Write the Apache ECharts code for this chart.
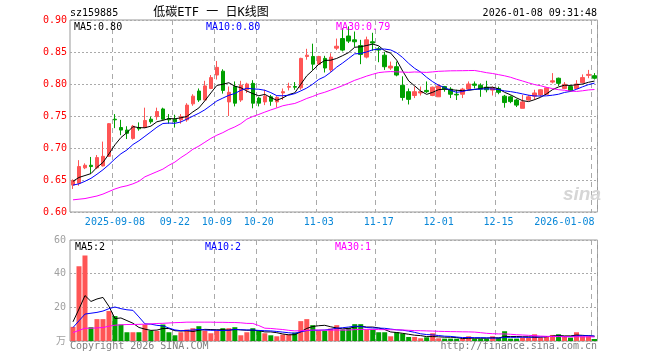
<!DOCTYPE html>
<html><head><meta charset="utf-8">
<script src="https://cdn.jsdelivr.net/npm/echarts@6/dist/echarts.min.js"></script>
<style>html,body{margin:0;padding:0;background:#fff}#c{width:660px;height:360px}</style>
</head><body><div id="c"></div>
<script>
const dates = ['2025-08-28','2025-08-29','2025-09-01','2025-09-02','2025-09-03','2025-09-04','2025-09-05','2025-09-08','2025-09-09','2025-09-10','2025-09-11','2025-09-12','2025-09-15','2025-09-16','2025-09-17','2025-09-18','2025-09-19','2025-09-22','2025-09-23','2025-09-24','2025-09-25','2025-09-26','2025-09-29','2025-09-30','2025-10-09','2025-10-10','2025-10-13','2025-10-14','2025-10-15','2025-10-16','2025-10-17','2025-10-20','2025-10-21','2025-10-22','2025-10-23','2025-10-24','2025-10-27','2025-10-28','2025-10-29','2025-10-30','2025-10-31','2025-11-03','2025-11-04','2025-11-05','2025-11-06','2025-11-07','2025-11-10','2025-11-11','2025-11-12','2025-11-13','2025-11-14','2025-11-17','2025-11-18','2025-11-19','2025-11-20','2025-11-21','2025-11-24','2025-11-25','2025-11-26','2025-11-27','2025-11-28','2025-12-01','2025-12-02','2025-12-03','2025-12-04','2025-12-05','2025-12-08','2025-12-09','2025-12-10','2025-12-11','2025-12-12','2025-12-15','2025-12-16','2025-12-17','2025-12-18','2025-12-19','2025-12-22','2025-12-23','2025-12-24','2025-12-25','2025-12-26','2025-12-29','2025-12-30','2025-12-31','2026-01-05','2026-01-06','2026-01-07','2026-01-08'];
const tickDates = ['2025-09-08','2025-09-22','2025-10-09','2025-10-20','2025-11-03','2025-11-17','2025-12-01','2025-12-15','2026-01-08'];
const tickLabels = ['2025-09-08','09-22','10-09','10-20','11-03','11-17','12-01','12-15','2026-01-08'];

const opens = [0.642,0.645,0.669,0.673,0.669,0.672,0.687,0.745,0.732,0.728,
0.715,0.732,0.732,0.745,0.749,0.761,0.746,0.745,0.744,0.744,
0.769,0.789,0.775,0.793,0.814,0.820,0.772,0.796,0.775,0.791,
0.801,0.778,0.772,0.780,0.772,0.786,0.795,0.796,0.794,0.843,
0.843,0.831,0.840,0.822,0.856,0.871,0.875,0.869,0.860,0.842,
0.866,0.855,0.845,0.825,0.827,0.798,0.788,0.782,0.786,0.790,
0.782,0.780,0.796,0.792,0.784,0.784,0.792,0.800,0.798,0.795,
0.7905,0.793,0.781,0.780,0.775,0.762,0.775,0.781,0.783,0.784,
0.803,0.809,0.793,0.796,0.793,0.802,0.8135,0.813];
const closes = [0.649,0.671,0.673,0.671,0.685,0.687,0.738,0.744,0.728,0.723,
0.734,0.730,0.743,0.741,0.757,0.745,0.744,0.741,0.749,0.767,
0.781,0.775,0.797,0.810,0.826,0.790,0.787,0.770,0.798,0.800,
0.770,0.770,0.781,0.773,0.779,0.788,0.796,0.795,0.840,0.845,
0.831,0.843,0.825,0.842,0.859,0.853,0.867,0.866,0.846,0.869,
0.864,0.853,0.827,0.828,0.814,0.779,0.776,0.788,0.788,0.788,
0.795,0.797,0.792,0.784,0.783,0.792,0.800,0.798,0.792,0.791,
0.794,0.787,0.771,0.7725,0.767,0.772,0.780,0.786,0.791,0.794,
0.805,0.801,0.7995,0.789,0.800,0.810,0.815,0.809];
const lows = [0.636,0.641,0.667,0.660,0.667,0.671,0.686,0.731,0.720,0.714,
0.713,0.727,0.731,0.738,0.744,0.744,0.738,0.732,0.738,0.741,
0.766,0.772,0.775,0.792,0.807,0.785,0.750,0.765,0.772,0.786,
0.762,0.765,0.767,0.766,0.763,0.775,0.790,0.791,0.791,0.838,
0.822,0.830,0.818,0.819,0.853,0.851,0.864,0.858,0.831,0.840,
0.852,0.834,0.822,0.822,0.812,0.774,0.768,0.778,0.782,0.786,
0.781,0.780,0.788,0.778,0.775,0.778,0.790,0.793,0.780,0.787,
0.782,0.784,0.763,0.770,0.764,0.762,0.774,0.775,0.780,0.783,
0.801,0.797,0.792,0.788,0.792,0.801,0.809,0.807];
const highs = [0.651,0.681,0.676,0.686,0.689,0.710,0.739,0.753,0.744,0.734,
0.736,0.740,0.763,0.749,0.763,0.763,0.753,0.752,0.753,0.770,
0.784,0.793,0.805,0.814,0.836,0.823,0.796,0.804,0.805,0.802,
0.806,0.780,0.791,0.783,0.781,0.793,0.802,0.803,0.841,0.855,
0.863,0.844,0.844,0.848,0.871,0.887,0.890,0.882,0.869,0.874,
0.880,0.858,0.850,0.835,0.835,0.812,0.793,0.796,0.796,0.804,
0.796,0.800,0.797,0.795,0.791,0.794,0.804,0.804,0.801,0.805,
0.796,0.796,0.783,0.782,0.777,0.783,0.783,0.791,0.792,0.795,
0.817,0.810,0.803,0.798,0.806,0.815,0.822,0.817];
const volumes = [8.4,44.4,50.8,8.2,13,13,17.8,14.8,9.8,5.2,
5.2,5.2,9.8,6.2,6,9.8,5.2,3.4,5.2,6.8,
7.6,8.8,6.2,4.6,6.2,7.6,7.6,8.2,3.4,5.2,
7.6,6.2,4.6,3.4,2.8,3.8,3.8,5,11.8,13,
9.4,6.2,6.2,7.4,9.4,6.8,7.8,10,10,6.8,
6.8,5.2,5.2,2.8,5.2,4.4,2.4,2.4,1.6,2.2,
4.6,1.6,1.4,1.4,1.4,1.4,2.8,1.4,1.4,1.4,
2.8,2.0,5.8,1.4,1.4,2.0,2.0,4.0,2.0,2.8,
3.6,4.0,2.8,2.0,5.2,2.8,2.8,1.2];

// moving-average values for days whose window starts before the first visible day
const ma5Early = [0.648,0.654,0.657,0.660];
const ma10Early = [0.642,0.644,0.648,0.6526,0.659,0.666,0.674,0.683,0.691];
const ma30Early = [0.619,0.620,0.621,0.623,0.625,0.628,0.632,0.636,0.639,0.641,
0.644,0.648,0.655,0.659,0.663,0.667,0.673,0.678,0.685,0.691,
0.698,0.703,0.709,0.715,0.720,0.724,0.729,0.733,0.738];
const vma5Early = [11.4,19,27,23.5];
const vma10Early = [8,12,16,16.5,17,17.8,19.2,20.2,19.2];
const vma30Early = [5,6.3,7.6,7.6,7.8,8.0,8.8,9.4,9.6,9.8,
9.8,9.9,10.0,10.2,10.4,10.5,10.7,10.9,11.0,11.2,
11.2,11.2,11.2,11.2,11.1,11.1,11.0,11.0,10.8];

const headerCode = 'sz159885';
const headerTitle = '低碳ETF 一 日K线图';
const headerTime = '2026-01-08 09:31:48';
const priceLegend = ['MA5:0.80','MA10:0.80','MA30:0.79'];
const volLegend = ['MA5:2','MA10:2','MA30:1'];

function movingAvg(src, n, early) {
  return src.map((v, i) => {
    if (i < early.length) return early[i];
    let s = 0;
    for (let k = i - n + 1; k <= i; k++) s += src[k];
    return +(s / n).toFixed(4);
  });
}

const RED = '#ff5555', GREEN = '#00a000';
const MONO = "'DejaVu Sans Mono','Liberation Mono',monospace";
const CJK = "'DejaVu Sans Mono','Noto Sans CJK SC',sans-serif";
const tickSet = new Set(tickDates);
const tickName = {};
tickDates.forEach((d, i) => tickName[d] = tickLabels[i]);
const isTick = (idx) => tickSet.has(dates[idx]);

const kData = opens.map((o, i) => [o, closes[i], lows[i], highs[i]]);
const volData = volumes.map((v, i) => ({
  value: v,
  itemStyle: { color: closes[i] >= opens[i] ? RED : GREEN }
}));

const chart = echarts.init(document.getElementById('c'), null, { renderer: 'canvas' });

const gridLeft = 70, gridWidth = 527.5;
const vLine = { show: true, interval: isTick, lineStyle: { color: '#aaaaaa', type: [5, 4], width: 1 } };
const hLine = { show: true, lineStyle: { color: '#aaaaaa', type: [2, 2], width: 1 } };

function lineSeries(data, color, xi) {
  return { type: 'line', data, xAxisIndex: xi, yAxisIndex: xi, showSymbol: false, symbol: 'none',
    lineStyle: { color, width: 1 }, itemStyle: { color }, silent: true, z: 5 };
}

function txt(x, y, text, fill, align, font) {
  return { type: 'text', x, y, silent: true, z: 100,
    style: { text, fill, font: font || ('10px ' + MONO), textAlign: align || 'left', textVerticalAlign: 'middle' } };
}

chart.setOption({
  animation: false,
  backgroundColor: '#ffffff',
  grid: [
    { left: gridLeft, top: 20, width: gridWidth, height: 192, show: true, borderColor: '#999999', borderWidth: 1, backgroundColor: 'transparent', outerBoundsMode: 'none', containLabel: false },
    { left: gridLeft, top: 240, width: gridWidth, height: 101, show: true, borderColor: '#999999', borderWidth: 1, backgroundColor: 'transparent', outerBoundsMode: 'none', containLabel: false }
  ],
  xAxis: [
    { type: 'category', data: dates, gridIndex: 0, boundaryGap: true,
      axisLine: { show: false }, axisTick: { show: false },
      axisLabel: { show: true, interval: isTick, formatter: (v) => tickName[v] || '', color: '#0a88d8',
        fontFamily: MONO, fontSize: 10, margin: 5, alignMaxLabel: 'right', hideOverlap: false },
      splitLine: vLine },
    { type: 'category', data: dates, gridIndex: 1, boundaryGap: true,
      axisLine: { show: false }, axisTick: { show: false }, axisLabel: { show: false },
      splitLine: vLine }
  ],
  yAxis: [
    { type: 'value', gridIndex: 0, min: 0.6, max: 0.9, interval: 0.05, scale: false,
      axisLine: { show: false }, axisTick: { show: false },
      axisLabel: { color: '#ff0000', fontFamily: MONO, fontSize: 10, margin: 3, formatter: (v) => v.toFixed(2) },
      splitLine: hLine },
    { type: 'value', gridIndex: 1, min: 0, max: 60, interval: 20,
      axisLine: { show: false }, axisTick: { show: false },
      axisLabel: { color: '#a0a0a0', fontFamily: CJK, fontSize: 10, margin: 4, formatter: (v) => v === 0 ? '万' : String(v) },
      splitLine: hLine }
  ],
  series: [
    { type: 'candlestick', data: kData, xAxisIndex: 0, yAxisIndex: 0, barWidth: 4,
      itemStyle: { color: RED, color0: GREEN, borderColor: RED, borderColor0: GREEN, borderWidth: 1 }, silent: true, z: 3 },
    lineSeries(movingAvg(closes, 5, ma5Early), '#000000', 0),
    lineSeries(movingAvg(closes, 10, ma10Early), '#0000ff', 0),
    lineSeries(movingAvg(closes, 30, ma30Early), '#ff00ff', 0),
    { type: 'bar', data: volData, xAxisIndex: 1, yAxisIndex: 1, barWidth: 5, silent: true, z: 3 },
    lineSeries(movingAvg(volumes, 5, vma5Early), '#000000', 1),
    lineSeries(movingAvg(volumes, 10, vma10Early), '#0000ff', 1),
    lineSeries(movingAvg(volumes, 30, vma30Early), '#ff00ff', 1)
  ],
  graphic: [
    txt(70, 13, headerCode, '#000000'),
    txt(211, 13, headerTitle, '#000000', 'center', '12px ' + CJK),
    txt(597, 13, headerTime, '#000000', 'right'),
    txt(74, 27, priceLegend[0], '#000000'),
    txt(206, 27, priceLegend[1], '#0000ff'),
    txt(336, 27, priceLegend[2], '#ff00ff'),
    txt(75, 247, volLegend[0], '#000000'),
    txt(205, 247, volLegend[1], '#0000ff'),
    txt(335, 247, volLegend[2], '#ff00ff'),
    txt(70, 346, 'Copyright 2026 SINA.COM', '#808080'),
    txt(597, 346, 'http://finance.sina.com.cn', '#808080', 'right'),
    txt(582, 195, 'sina', '#d6d6d6', 'center', 'italic bold 19px Liberation Sans, Arial, sans-serif')
  ]
});
</script></body></html>
